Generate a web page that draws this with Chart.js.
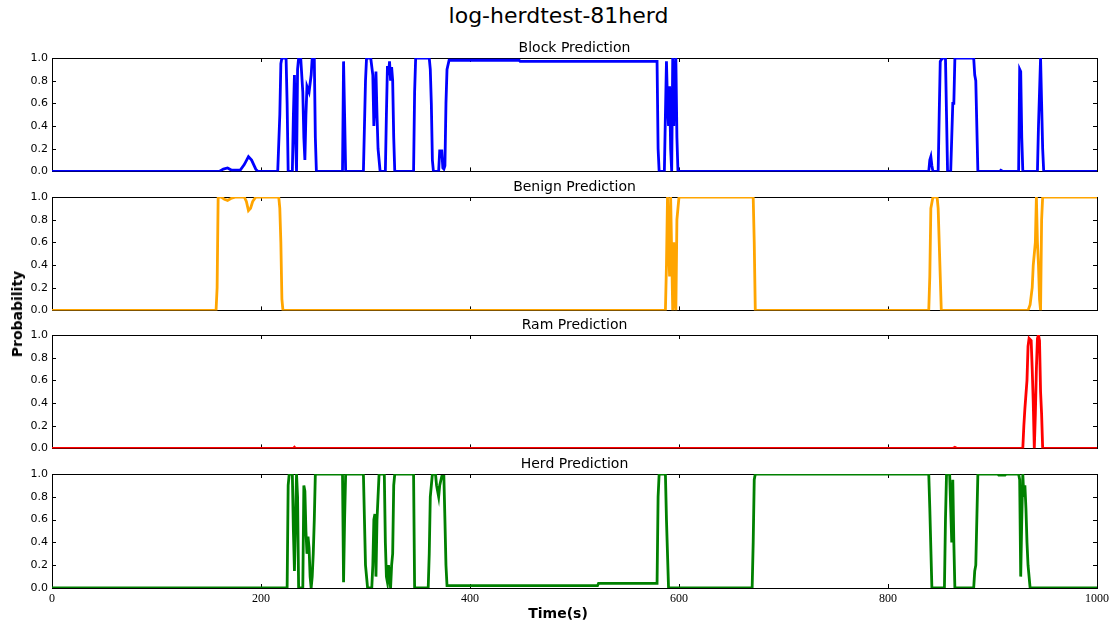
<!DOCTYPE html>
<html>
<head>
<meta charset="utf-8">
<script src="https://cdn.jsdelivr.net/npm/chart.js@4"></script>
<style>
  body { margin: 0; background: #fff; }
  #wrap { position: relative; width: 1117px; height: 625px; font-family: "DejaVu Sans", sans-serif; color: #000; }
  canvas { position: absolute; left: 0; }
  #main { position: absolute; left: 0; width: 1117px; top: 3px; text-align: center; font-size: 22px; }
  #ylab { position: absolute; left: 17px; top: 314px; font-size: 14px; font-weight: bold;
          transform: translate(-50%, -50%) rotate(-90deg); white-space: nowrap; }
  #xlab { position: absolute; left: 558px; top: 613px; font-size: 14px; font-weight: bold;
          transform: translate(-50%, -50%); white-space: nowrap; }
</style>
</head>
<body>
<div id="wrap">
  <div id="main">log-herdtest-81herd</div>
  <canvas id="c0"></canvas>
  <canvas id="c1"></canvas>
  <canvas id="c2"></canvas>
  <canvas id="c3"></canvas>
  <div id="ylab">Probability</div>
  <div id="xlab">Time(s)</div>
</div>
<script>
// values (time in s, probability)
const xTicks = [0, 200, 400, 600, 800, 1000];
const yTicks = [0, 0.2, 0.4, 0.6, 0.8, 1.0];

const blockTime = [0,160,164,168,172,180,184,188,191,195,197,216,218,219,220,224,225,226,230,231,232,233,234,235,236,238,240,241,242,243,244,246,248,249,251,252,253,278,279,280,281,298,300,301,305,307,308,309,310,311,312,314,319,320,321,322,323,324,325,326,327,328,346,347,348,361,362,363,364,365,370,371,373,374,375,376,377,378,380,447,448,579,580,581,586,587,588,589,590,591,592,593,594,595,596,597,598,599,839,840,841,842,843,848,849,850,852,855,856,857,860,861,862,863,864,882,883,884,886,907,908,910,925,926,927,928,929,943,944,945,946,947,948,949,1000];
const blockProb = [0,0,0.02,0.03,0.01,0.01,0.06,0.13,0.10,0.02,0,0,0.5,0.95,1.0,1.0,0.6,0,0,0.5,0.85,0.3,0,0.9,1.0,1.0,0.7,0.3,0.1,0.5,0.75,0.7,0.85,1.0,1.0,0.3,0,0,0.97,0.5,0,0,0.8,1.0,1.0,0.85,0.4,0.6,0.88,0.5,0.2,0,0,0.5,0.93,0.85,0.97,0.8,0.92,0.8,0.3,0,0,0.7,1.0,1.0,0.9,0.6,0.1,0,0,0.18,0.18,0.03,0.02,0.05,0.6,0.9,0.98,0.98,0.97,0.97,0.2,0,0,0.5,0.97,0.6,0.4,0.75,0.2,0,1.0,0.4,0.9,1.0,0.3,0,0,0.1,0.13,0.05,0,0,0.5,0.97,1.0,1.0,0.5,0,0,0.3,0.6,0.6,1.0,1.0,0.85,0.8,0,0,0.01,0,0,0.9,0.88,0.3,0,0,0.4,0.7,1.0,0.6,0.2,0,0];

const benignTime = [0,157,158,159,162,165,168,172,176,184,186,188,190,192,195,217,218,219,220,221,587,588,589,590,591,592,593,594,595,596,597,598,599,600,671,672,673,839,840,841,843,847,848,849,850,851,934,936,938,939,941,942,943,944,945,946,947,948,950,1000];
const benignProb = [0,0,0.2,1.0,1.0,0.98,0.97,0.99,1.0,1.0,0.96,0.88,0.9,0.96,1.0,1.0,0.9,0.6,0.1,0,0,0.4,1.0,0.6,0.3,1.0,0.5,0,0.6,0.1,0,0.8,0.9,1.0,1.0,0.6,0,0,0.3,0.9,1.0,1.0,0.9,0.6,0.3,0,0,0.05,0.2,0.4,0.6,1.0,0.6,0.4,0.1,0,0.8,1.0,1.0,1.0];

const ramTime = [0,231,232,233,862,864,866,929,930,931,933,934,935,936,937,938,939,940,941,942,943,944,945,946,947,948,1000];
const ramProb = [0,0,0.01,0,0,0.01,0,0,0.2,0.35,0.6,0.9,0.97,0.96,0.95,0.7,0.4,0,0.3,0.7,0.97,1.0,0.95,0.5,0.3,0,0];

const herdTime = [0,225,226,227,230,231,232,233,234,235,236,240,241,242,243,244,245,246,247,248,249,250,251,252,278,279,280,281,298,299,300,302,306,307,308,309,310,311,312,313,318,319,320,321,322,323,324,325,326,327,328,346,347,360,361,362,364,367,368,370,371,373,375,376,377,378,522,523,579,580,581,587,588,590,670,671,672,673,839,840,842,854,855,856,859,860,861,862,863,864,882,883,884,886,905,906,912,913,925,926,927,928,929,930,931,932,933,934,936,1000];
const herdProb = [0,0,0.9,1.0,1.0,0.5,0.15,0.6,1.0,0.8,0,0,0.9,0.85,0.5,0.3,0.45,0.35,0.1,0,0.1,0.3,0.6,1.0,1.0,0.05,0.6,1.0,1.0,0.6,0.2,0,0,0.2,0.6,0.65,0.1,0.6,0.8,1.0,1.0,0.4,0.1,0.05,0.2,0.1,0,0.2,0.3,0.9,1.0,1.0,0,0,0.3,0.8,1.0,1.0,0.9,0.8,0.9,0.98,0.98,0.6,0.2,0.02,0.02,0.04,0.04,0.8,1.0,1.0,0.6,0,0,0.4,0.95,1.0,1.0,0.7,0,0,0.6,1.0,1.0,0.7,0.4,0.95,0.4,0,0,0.15,0.2,1.0,1.0,0.99,0.99,1.0,1.0,0.95,0.1,0.6,1.0,0.8,0.9,0.7,0.4,0.2,0,0];

const panels = [
  { id: 'c0', name: 'Block Prediction',  time: blockTime,  prob: blockProb,  color: '#0000ff', top: 58 },
  { id: 'c1', name: 'Benign Prediction', time: benignTime, prob: benignProb, color: '#ffa500', top: 196.5 },
  { id: 'c2', name: 'Ram Prediction',    time: ramTime,    prob: ramProb,    color: '#ff0000', top: 335 },
  { id: 'c3', name: 'Herd Prediction',   time: herdTime,   prob: herdProb,   color: '#008000', top: 474 }
];

const W = 1117, PLOT_LEFT = 52, PLOT_RIGHT = 1097, PLOT_H = 114, PAD_TOP = 22;

// box round the plot, inward ticks (matplotlib style) and panel title
const frame = {
  id: 'frame',
  beforeDatasetsDraw(chart) {
    const { ctx, chartArea: a, scales } = chart;
    ctx.save();
    ctx.strokeStyle = '#000';
    ctx.lineWidth = 1;
    ctx.strokeRect(Math.round(a.left) + 0.5, Math.round(a.top) + 0.5, Math.round(a.right - a.left), Math.round(a.bottom - a.top));
    ctx.beginPath();
    xTicks.forEach(v => {
      const x = Math.round(scales.x.getPixelForValue(v)) + 0.5;
      ctx.moveTo(x, a.bottom); ctx.lineTo(x, a.bottom - 4);
      ctx.moveTo(x, a.top); ctx.lineTo(x, a.top + 4);
    });
    yTicks.forEach(v => {
      const y = Math.round(scales.y.getPixelForValue(v)) + 0.5;
      ctx.moveTo(a.left, y); ctx.lineTo(a.left + 4, y);
      ctx.moveTo(a.right, y); ctx.lineTo(a.right - 4, y);
    });
    ctx.stroke();
    ctx.restore();
  },
  afterDraw(chart, args, opts) {
    const { ctx, chartArea: a } = chart;
    ctx.save();
    ctx.fillStyle = '#000';
    ctx.font = '14px "DejaVu Sans"';
    ctx.textAlign = 'center';
    ctx.textBaseline = 'middle';
    ctx.fillText(opts.text, (a.left + a.right) / 2, a.top - 10);
    ctx.restore();
  }
};

panels.forEach((pn, i) => {
  const last = i === panels.length - 1;
  const xh = last ? 30 : 10;
  const cv = document.getElementById(pn.id);
  cv.width = W;
  cv.height = PAD_TOP + PLOT_H + xh;
  cv.style.top = (pn.top - PAD_TOP) + 'px';

  new Chart(cv, {
    type: 'line',
    data: {
      datasets: [{
        data: pn.time.map((t, k) => ({ x: t, y: pn.prob[k] })),
        borderColor: pn.color,
        borderWidth: 2.8,
        pointRadius: 0,
        tension: 0,
        fill: false
      }]
    },
    options: {
      responsive: false,
      animation: false,
      layout: { padding: { top: PAD_TOP, left: 0, right: W - PLOT_RIGHT, bottom: 0 } },
      plugins: {
        legend: { display: false },
        tooltip: { enabled: false },
        frame: { text: pn.name }
      },
      scales: {
        x: {
          type: 'linear', min: 0, max: 1000,
          grid: { display: false, drawTicks: false }, border: { display: false },
          ticks: { display: last, stepSize: 200, padding: 4, color: '#000', maxRotation: 0,
                   font: { family: 'Liberation Serif', size: 12 },
                   callback: v => String(v) },
          afterFit: s => { s.height = xh; }
        },
        y: {
          min: 0, max: 1,
          grid: { display: false, drawTicks: false }, border: { display: false },
          ticks: { stepSize: 0.2, padding: 4, color: '#000',
                   font: { family: 'DejaVu Sans', size: 11 },
                   callback: v => v.toFixed(1) },
          afterFit: s => { s.width = PLOT_LEFT; }
        }
      }
    },
    plugins: [frame]
  });
});
</script>
</body>
</html>
